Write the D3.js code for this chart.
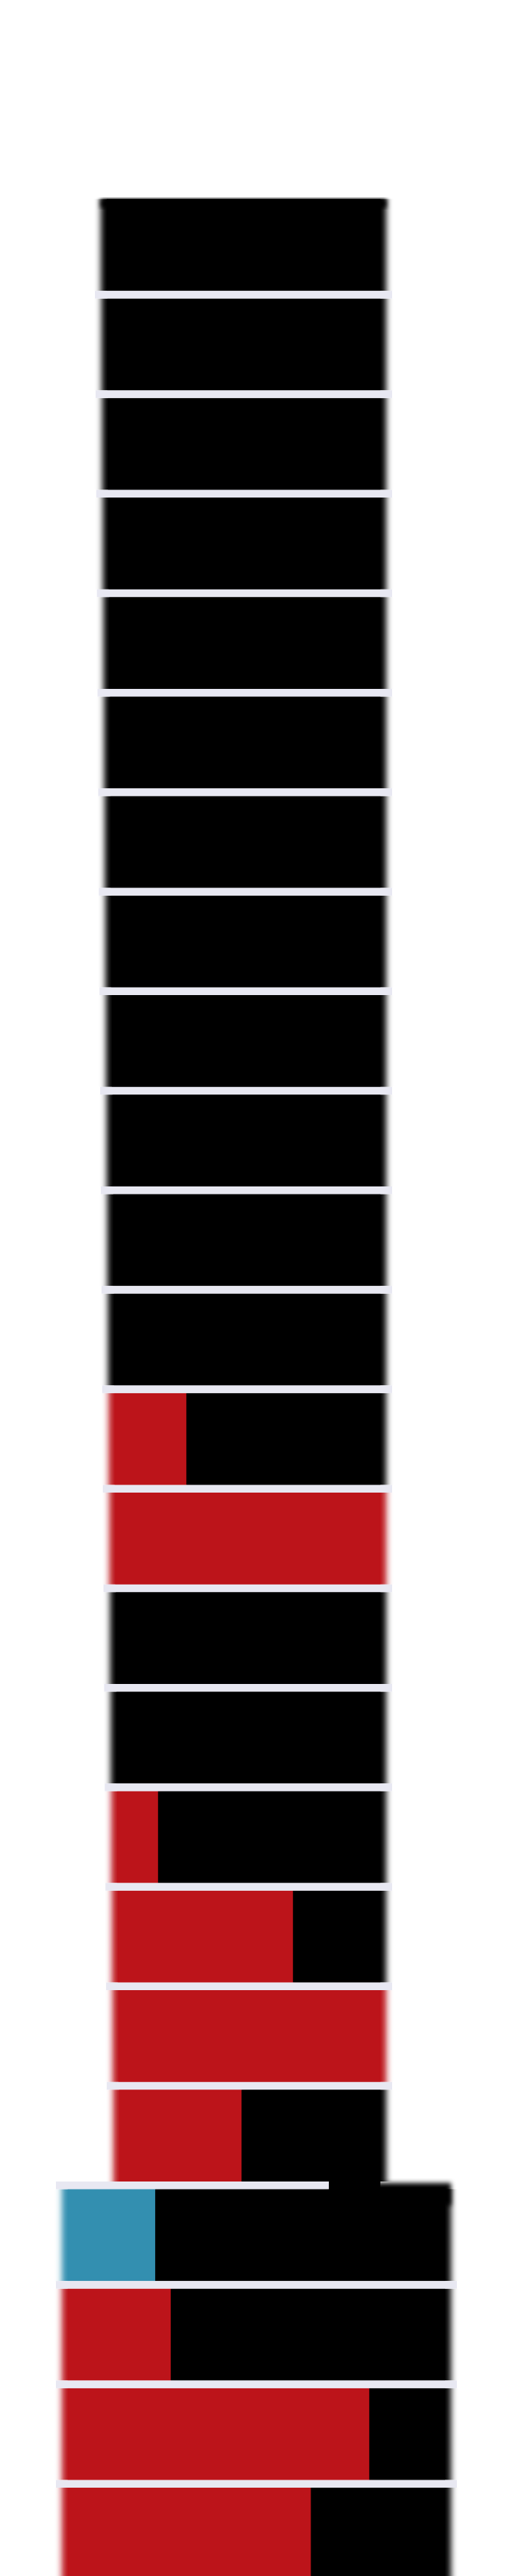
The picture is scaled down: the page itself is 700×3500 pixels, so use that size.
<!DOCTYPE html>
<html>
<head>
<meta charset="utf-8">
<script src="https://cdn.jsdelivr.net/npm/d3@7"></script>
<style>
  html, body { margin: 0; padding: 0; background: #ffffff; }
  svg { display: block; }
</style>
</head>
<body>
<div id="chart"></div>
<script>
// ---------------- DATA ----------------
const rows = ["R1","R2","R3","R4","R5","R6","R7","R8","R9","R10","R11","R12",
              "R13","R14","R15","R16","R17","R18","R19","R20","R21","R22","R23","R24"];
const groups = ["A","A","A","A","A","A","A","A","A","A","A","A",
                "A","A","A","A","A","A","A","A","B","B","B","B"];
const redShare   = [0,0,0,0,0,0,0,0,0,0,0,0, 28,100,0,0,17,66,100,47, 0,28,79,64];
const blueShare  = [0,0,0,0,0,0,0,0,0,0,0,0, 0,0,0,0,0,0,0,0, 24,0,0,0];
const seriesNames = ["blue","red","black"];

// ---------------- LAYOUT / STYLE ----------------
const W = 700, H = 3500;
const colors = { blue: "#338fb0", red: "#bc141a", black: "#000000" };
const sepColor = "#e8e8f2";
const blurSd = 4, inset = 8, sepExt = 8;

const svg = d3.select("#chart").append("svg").attr("width", W).attr("height", H);

const defs = svg.append("defs");
defs.append("filter").attr("id", "soft")
  .attr("x", "-20%").attr("y", "-20%").attr("width", "140%").attr("height", "140%")
  .append("feGaussianBlur").attr("stdDeviation", blurSd + " 0");
defs.append("filter").attr("id", "softAll")
  .attr("x", "-20%").attr("y", "-20%").attr("width", "140%").attr("height", "140%")
  .append("feGaussianBlur").attr("stdDeviation", 3);

const y = d3.scaleBand().domain(rows).range([270.4, 3504.8]).paddingInner(10.4 / 135.2).paddingOuter(0);

// section extents
const topLeft = d3.scaleLinear().domain([0, 19]).range([137, 154]);
function extent(i) {
  if (groups[i] === "A") return [topLeft(i), 525];
  return [84, 613];
}

const data = rows.map((r, i) => {
  const blue = blueShare[i], red = redShare[i];
  return { row: r, i, group: groups[i], blue, red, black: 100 - blue - red };
});
const stack = d3.stack().keys(seriesNames)(data);

function segs(d) {
  const [l, r] = extent(d.i);
  const x = d3.scaleLinear().domain([0, 100]).range([l, r]);
  const out = [];
  stack.forEach(layer => {
    const s = layer[d.i];
    if (s[1] - s[0] > 0) out.push({ key: layer.key, x0: x(s[0]), x1: x(s[1]), row: d.row, i: d.i, first: s[0] === 0, last: s[1] === 100 });
  });
  return out;
}
const allSegs = data.flatMap(segs);

// the first row of the bottom group covers the gap above it on its right part
const bridgeShare = 68.6;

// blurred layer (horizontal softening of outer edges)
const blurG = svg.append("g").attr("filter", "url(#soft)");
blurG.selectAll("rect").data(allSegs).join("rect")
  .attr("x", s => s.x0).attr("width", s => s.x1 - s.x0)
  .attr("y", s => y(s.row)).attr("height", y.bandwidth())
  .attr("fill", s => colors[s.key]);

// separators
const seps = [];
for (let i = 0; i < rows.length - 1; i++) {
  const a = extent(i), b = extent(i + 1);
  let x0 = Math.min(a[0], b[0]) - sepExt;
  let x1 = Math.max(a[1], b[1]) + sepExt;
  const cross = groups[i] !== groups[i + 1];
  if (cross) {
    const xb = d3.scaleLinear().domain([0, 100]).range(b);
    x1 = xb(bridgeShare);
  }
  seps.push({ x0, x1, y0: y(rows[i]) + y.bandwidth(), y1: y(rows[i + 1]), cross, i });
}

// sharp layer
const sharpG = svg.append("g");
sharpG.selectAll("rect").data(allSegs).join("rect")
  .attr("x", s => s.x0 + (s.first ? inset : 0))
  .attr("width", s => (s.x1 - s.x0) - (s.first ? inset : 0) - (s.last ? inset : 0))
  .attr("y", s => y(s.row)).attr("height", y.bandwidth())
  .attr("fill", s => colors[s.key]);

// soft top edge of the first row
const first = allSegs.filter(s => s.i === 0);
const topG = svg.insert("g", ":first-child").attr("filter", "url(#softAll)");
topG.selectAll("rect").data(first).join("rect")
  .attr("x", s => s.x0).attr("width", s => s.x1 - s.x0)
  .attr("y", s => y(s.row)).attr("height", 12)
  .attr("fill", s => colors[s.key]);

// bridge between groups
const crossSep = seps.find(s => s.cross);
if (crossSep) {
  const b = extent(crossSep.i + 1);
  const a = extent(crossSep.i);
  const xb = d3.scaleLinear().domain([0, 100]).range(b);
  const bg = svg.insert("g", ":first-child").attr("filter", "url(#softAll)");
  bg.append("rect")
    .attr("x", xb(bridgeShare)).attr("width", b[1] - xb(bridgeShare))
    .attr("y", crossSep.y0 + 2).attr("height", crossSep.y1 - crossSep.y0 + 20)
    .attr("fill", colors.black);
  sharpG.append("rect")
    .attr("x", xb(bridgeShare)).attr("width", a[1] - inset - xb(bridgeShare))
    .attr("y", crossSep.y0).attr("height", crossSep.y1 - crossSep.y0)
    .attr("fill", colors.black);
  sharpG.append("rect")
    .attr("x", xb(bridgeShare)).attr("width", b[1] - inset - xb(bridgeShare))
    .attr("y", crossSep.y0 + 8).attr("height", crossSep.y1 - crossSep.y0)
    .attr("fill", colors.black);
}

const sepG = svg.append("g");
sepG.selectAll("rect").data(seps).join("rect")
  .attr("x", s => s.x0).attr("width", s => s.x1 - s.x0)
  .attr("y", s => s.y0).attr("height", s => s.y1 - s.y0)
  .attr("fill", sepColor);
</script>
</body>
</html>
